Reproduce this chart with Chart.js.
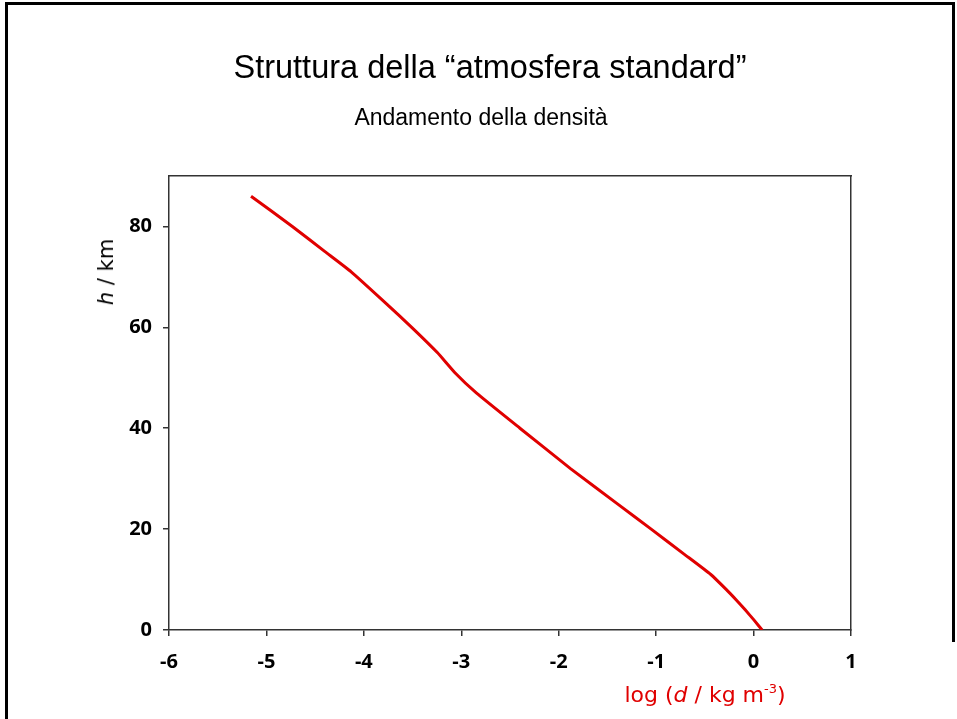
<!DOCTYPE html>
<html>
<head>
<meta charset="utf-8">
<script src="https://cdn.jsdelivr.net/npm/chart.js@4.4.1/dist/chart.umd.min.js"></script>
<style>
  html, body { margin: 0; padding: 0; background: #fff; }
  #page { position: relative; width: 957px; height: 719px; overflow: hidden; }
  #chart { position: absolute; left: 0; top: 0; }
  .line { position: absolute; background: #000; }
  .txt { position: absolute; white-space: nowrap; transform: translate(-50%, -50%); }
  #title { left: 490px; top: 67px; font: 32.5px "Liberation Sans", Arial, sans-serif; color: #000; }
  #subtitle { left: 481px; top: 117px; font: 23px "Liberation Sans", Arial, sans-serif; color: #000; }
  #ytitle { left: 106px; top: 272px; font: 21px "DejaVu Sans", sans-serif; color: #000;
            transform: translate(-50%, -50%) rotate(-90deg); }
  #xtitle { left: 705px; top: 694px; font: 22px "DejaVu Sans", sans-serif; color: #e00000; }
  #xtitle sup { font-size: 13px; vertical-align: 9px; line-height: 0; }
</style>
</head>
<body>
<div id="page">
  <canvas id="chart" width="957" height="719"></canvas>
  <div class="line" style="left:5px; top:2px; width:950px; height:3px;"></div>
  <div class="line" style="left:5px; top:2px; width:3px; height:717px;"></div>
  <div class="line" style="left:952px; top:2px; width:3px; height:640px;"></div>
  <div id="title" class="txt">Struttura della “atmosfera standard”</div>
  <div id="subtitle" class="txt">Andamento della densità</div>
  <div id="ytitle" class="txt"><i>h</i> / km</div>
  <div id="xtitle" class="txt">log (<i>d</i> / kg m<sup>-3</sup>)</div>
</div>
<script>
// altitude (km) and log10 of air density (kg m^-3)
const altitudes = [0, 2, 4, 6, 8, 11, 15, 20, 25, 32, 40, 47, 51, 55, 60, 65, 71, 75, 80, 86];
const logDensity = [0.088, 0.003, -0.086, -0.180, -0.279, -0.439, -0.710, -1.051, -1.397, -1.879,
                    -2.398, -2.846, -3.065, -3.246, -3.509, -3.787, -4.130, -4.399, -4.734, -5.158];

const xTicks = [-6, -5, -4, -3, -2, -1, 0, 1];
const yTicks = [0, 20, 40, 60, 80];

const axisColor = '#333';
const tickFont = { family: 'Open Sans', size: 20, weight: 'bold' };

const points = altitudes.map((h, i) => ({ x: logDensity[i], y: h }));

function setTicks(values) {
    return scale => { scale.ticks = values.map(v => ({ value: v })); };
}

new Chart(document.getElementById('chart'), {
    type: 'scatter',
    data: {
        datasets: [{
            data: points,
            showLine: true,
            borderColor: '#e00000',
            borderWidth: 3,
            pointRadius: 0,
            tension: 0.15,
            fill: false
        }]
    },
    options: {
        responsive: false,
        animation: false,
        layout: { padding: 0 },
        plugins: { legend: { display: false }, tooltip: { enabled: false } },
        scales: {
            x: {
                type: 'linear', position: 'bottom', min: -6, max: 1,
                afterBuildTicks: setTicks(xTicks),
                afterFit: s => { s.height = 89; },
                ticks: { color: '#000', font: tickFont, padding: 14, maxRotation: 0 },
                grid: { drawOnChartArea: false, drawTicks: true, tickLength: 6, color: axisColor, lineWidth: 1.5 },
                border: { color: axisColor, width: 1.5 }
            },
            y: {
                type: 'linear', position: 'left', min: 0, max: 90,
                afterBuildTicks: setTicks(yTicks),
                afterFit: s => { s.width = 169; },
                ticks: { color: '#000', font: tickFont, padding: 11 },
                grid: { drawOnChartArea: false, drawTicks: true, tickLength: 6, color: axisColor, lineWidth: 1.5 },
                border: { color: axisColor, width: 1.5 }
            },
            x2: {
                type: 'linear', position: 'top', min: -6, max: 1,
                afterFit: s => { s.height = 176; },
                ticks: { display: false },
                grid: { display: false },
                border: { color: axisColor, width: 1.5 }
            },
            y2: {
                type: 'linear', position: 'right', min: 0, max: 90,
                afterFit: s => { s.width = 106; },
                ticks: { display: false },
                grid: { display: false },
                border: { color: axisColor, width: 1.5 }
            }
        }
    }
});
</script>
</body>
</html>
